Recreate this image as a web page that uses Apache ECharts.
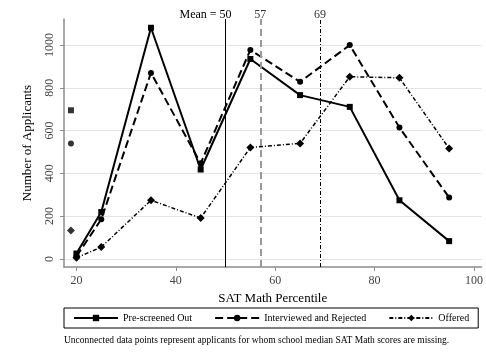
<!DOCTYPE html>
<html>
<head>
<meta charset="utf-8">
<script src="https://cdn.jsdelivr.net/npm/echarts@6/dist/echarts.min.js"></script>
<style>html,body{margin:0;padding:0;background:#fff;}#c{width:486px;height:360px;}</style>
</head>
<body>
<div id="c"></div>
<script>
const percentiles = [20, 25, 35, 45, 55, 65, 75, 85, 95];
const prescreened = [25, 219, 1081, 418, 935, 766, 711, 274, 83];
const interviewed = [12, 185, 870, 447, 977, 828, 1000, 614, 287];
const offered = [5, 55, 274, 191, 521, 540, 852, 847, 516];
const missingX = 18.9;
const missingPrescreened = 695;
const missingInterviewed = 540;
const missingOffered = 133;
const xTicks = [20, 40, 60, 80, 100];
const yTicks = [0, 200, 400, 600, 800, 1000];
const refLines = [
  { value: 50, label: 'Mean = ' },
  { value: 57, label: '' },
  { value: 69, label: '' }
];
const seriesNames = ['Pre-screened Out', 'Interviewed and Rejected', 'Offered'];
const footnote = 'Unconnected data points represent applicants for whom school median SAT Math scores are missing.';

const FONT = '"Liberation Serif", "DejaVu Serif", serif';
const pair = (xs, ys) => xs.map((x, i) => [x, ys[i]]);

const chart = echarts.init(document.getElementById('c'), null, { renderer: 'canvas' });
chart.setOption({
  animation: false,
  backgroundColor: '#fff',
  textStyle: { fontFamily: FONT, color: '#000' },
  grid: { left: 64, right: 4, top: 19, bottom: 93 },
  title: {
    text: footnote,
    left: 64,
    top: 335,
    padding: 0,
    textStyle: { fontFamily: FONT, fontSize: 9.5, fontWeight: 'normal', color: '#000' }
  },
  legend: {
    data: seriesNames,
    left: 64,
    top: 308,
    width: 414,
    padding: [5, 9, 5, 9],
    itemGap: 22,
    itemWidth: 44,
    itemHeight: 8,
    borderColor: '#000',
    borderWidth: 1,
    textStyle: { fontFamily: FONT, fontSize: 10, color: '#000', padding: [0, 0, 0, 0] }
  },
  xAxis: {
    type: 'value',
    min: 17.5,
    max: 101.5,
    name: 'SAT Math Percentile',
    nameLocation: 'middle',
    nameGap: 18,
    nameTextStyle: { fontFamily: FONT, fontSize: 13, color: '#000' },
    axisLine: { show: true, onZero: false, lineStyle: { color: '#8c8c8c', width: 1.5 } },
    axisTick: { show: true, length: 4, customValues: xTicks, lineStyle: { color: '#8c8c8c' } },
    axisLabel: { customValues: xTicks, margin: 8, fontFamily: FONT, fontSize: 12, color: '#444', formatter: v => String(v) },
    splitLine: { show: false }
  },
  yAxis: {
    type: 'value',
    min: -38,
    max: 1122,
    name: 'Number of Applicants',
    nameLocation: 'middle',
    nameGap: 30,
    nameRotate: 90,
    nameTextStyle: { fontFamily: FONT, fontSize: 13, color: '#000' },
    axisLine: { show: true, onZero: false, lineStyle: { color: '#8c8c8c', width: 1.5 } },
    axisTick: { show: true, length: 4, customValues: yTicks, lineStyle: { color: '#8c8c8c' } },
    axisLabel: { customValues: yTicks, rotate: 90, margin: 8, fontFamily: FONT, fontSize: 12, color: '#444', formatter: v => String(v) },
    splitLine: { show: true, lineStyle: { color: '#e4e4e4', width: 1 } }
  },
  series: [
    {
      name: seriesNames[0], type: 'line', data: pair(percentiles, prescreened),
      symbol: 'rect', symbolSize: 6, color: '#000',
      lineStyle: { color: '#000', width: 2, type: 'solid' },
      itemStyle: { color: '#000' },
      markLine: {
        silent: true, symbol: 'none',
        data: [
          { xAxis: refLines[0].value, lineStyle: { color: '#000', width: 1, type: 'solid' },
            label: { show: true, position: 'end', distance: -2, formatter: '{m|' + refLines[0].label + '}{v|' + refLines[0].value + '}{p|}',
              rich: { m: { fontFamily: FONT, fontSize: 12, color: '#000' }, v: { fontFamily: FONT, fontSize: 12, color: '#000' }, p: { width: 40 } } } },
          { xAxis: refLines[1].value, lineStyle: { color: '#999', width: 2, type: [7, 4] },
            label: { show: true, position: 'end', distance: -2, formatter: String(refLines[1].value), fontFamily: FONT, fontSize: 12, color: '#333' } },
          { xAxis: refLines[2].value, lineStyle: { color: '#000', width: 1, type: [4, 2, 1, 2] },
            label: { show: true, position: 'end', distance: -2, formatter: String(refLines[2].value), fontFamily: FONT, fontSize: 12, color: '#333' } }
        ]
      }
    },
    {
      name: seriesNames[1], type: 'line', data: pair(percentiles, interviewed),
      symbol: 'circle', symbolSize: 6, color: '#000',
      lineStyle: { color: '#000', width: 2, type: [8, 4] },
      itemStyle: { color: '#000' }
    },
    {
      name: seriesNames[2], type: 'line', data: pair(percentiles, offered),
      symbol: 'diamond', symbolSize: 8, color: '#000',
      lineStyle: { color: '#000', width: 1.5, type: [4, 2, 1, 2] },
      itemStyle: { color: '#000' }
    },
    { type: 'scatter', data: [[missingX, missingPrescreened]], symbol: 'rect', symbolSize: 6, itemStyle: { color: '#000' } },
    { type: 'scatter', data: [[missingX, missingInterviewed]], symbol: 'circle', symbolSize: 6, itemStyle: { color: '#000' } },
    { type: 'scatter', data: [[missingX, missingOffered]], symbol: 'diamond', symbolSize: 8, itemStyle: { color: '#000' } }
  ]
});
</script>
</body>
</html>
